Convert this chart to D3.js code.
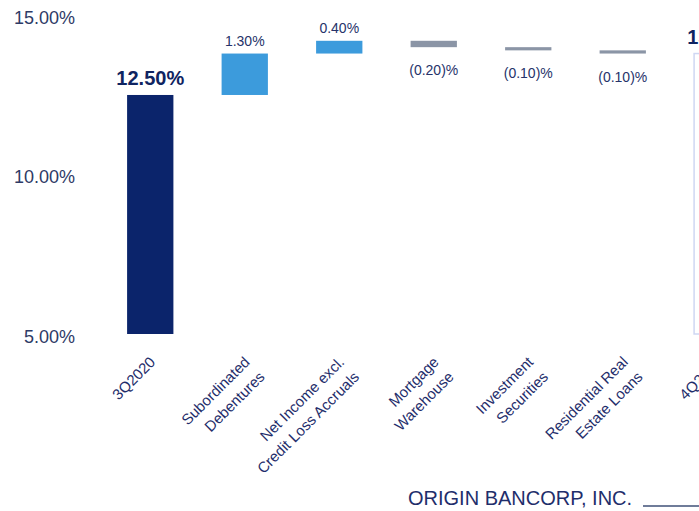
<!DOCTYPE html>
<html>
<head>
<meta charset="utf-8">
<script src="https://cdn.jsdelivr.net/npm/d3@7.9.0/dist/d3.min.js"></script>
<style>
  html, body { margin: 0; padding: 0; background: #fff; }
  svg { display: block; font-family: "Liberation Sans", Arial, sans-serif; }
</style>
</head>
<body>
<svg id="chart" width="699" height="511"></svg>
<script>
// ----- data -----
const categories = [
  "3Q2020",
  "Subordinated|Debentures",
  "Net Income excl.|Credit Loss Accruals",
  "Mortgage|Warehouse",
  "Investment|Securities",
  "Residential Real|Estate Loans",
  "4Q2020"
];
const values = [12.5, 1.3, 0.4, -0.2, -0.1, -0.1, 13.8];
const kinds = ["total", "delta", "delta", "delta", "delta", "delta", "total"];
const yTicks = [5, 10, 15];
const footerText = "ORIGIN BANCORP, INC.";

// ----- layout -----
const svg = d3.select("#chart");
const base = 5;

const x = d3.scaleBand()
  .domain(categories)
  .range([103, 764.5])
  .paddingInner(0.51)
  .paddingOuter(0.255);

const y = d3.scaleLinear().domain([5, 15]).range([334, 15.3]);

// waterfall steps
let running = 0;
const bars = categories.map((c, i) => {
  let from, to;
  if (kinds[i] === "total") { from = base; to = values[i]; running = values[i]; }
  else { from = running; to = running + values[i]; running = to; }
  return { cat: c, value: values[i], kind: kinds[i], from, to, i };
});

const fmt = v => v.toFixed(2) + "%";
function colorOf(d) {
  if (d.kind === "total") return d.i === 0 ? "#0b246b" : "#ffffff";
  return d.value >= 0 ? "#3c9bdc" : "#8b95a6";
}

// y axis labels (no line)
const yAxis = d3.axisLeft(y).tickValues(yTicks).tickFormat(fmt).tickSize(0).tickPadding(0);
svg.append("g")
  .attr("transform", "translate(75,2.5)")
  .call(yAxis)
  .call(g => g.select(".domain").remove())
  .call(g => g.selectAll("text")
    .attr("fill", "#2e3a66")
    .style("font-size", "18px")
    .style("font-family", "Liberation Sans, Arial, sans-serif"));

// bars
svg.append("g").selectAll("rect")
  .data(bars)
  .enter()
  .append("rect")
  .attr("x", d => x(d.cat))
  .attr("width", x.bandwidth())
  .attr("y", d => y(Math.max(d.from, d.to)))
  .attr("height", d => Math.max(1, Math.abs(y(d.from) - y(d.to))))
  .attr("fill", colorOf)
  .attr("stroke", d => d.kind === "total" && d.i > 0 ? "#cfd7f3" : "none")
  .attr("stroke-width", 1.5);

// value labels
svg.append("g").selectAll("text")
  .data(bars)
  .enter()
  .append("text")
  .attr("x", d => x(d.cat) + x.bandwidth() / 2 + (d.i === 6 ? 4 : 0))
  .attr("y", d => {
    if (d.kind === "total") return y(d.to) - 10;
    if (d.value >= 0) return y(d.to) - 8;
    return y(d.to) + 28;
  })
  .attr("text-anchor", "middle")
  .attr("fill", d => d.kind === "total" ? "#0f2461" : "#26336a")
  .style("font-size", d => d.kind === "total" ? "20px" : "14px")
  .style("font-weight", d => d.kind === "total" ? "bold" : "normal")
  .text(d => {
    if (d.kind === "total") return fmt(d.value);
    if (d.value >= 0) return fmt(d.value);
    return "(" + Math.abs(d.value).toFixed(2) + ")%";
  });

// category labels, rotated
const cats = svg.append("g").selectAll("g")
  .data(categories)
  .enter()
  .append("g")
  .attr("transform", d => `translate(${x(d) + x.bandwidth() / 2 + 6},363) rotate(-45)`);

cats.each(function (d) {
  const lines = d.split("|");
  const t = d3.select(this).append("text")
    .attr("text-anchor", "end")
    .attr("fill", "#1f2e6b")
    .style("font-size", "15px");
  lines.forEach((ln, k) => {
    t.append("tspan").attr("x", 0).attr("y", k * 21).text(ln);
  });
});

// footer
svg.append("text")
  .attr("x", 408)
  .attr("y", 505)
  .attr("fill", "#1f2e6b")
  .style("font-size", "20px")
  .text(footerText);

svg.append("line")
  .attr("x1", 643).attr("x2", 699)
  .attr("y1", 506).attr("y2", 506)
  .attr("stroke", "#6f7c99")
  .attr("stroke-width", 2);
</script>
</body>
</html>
